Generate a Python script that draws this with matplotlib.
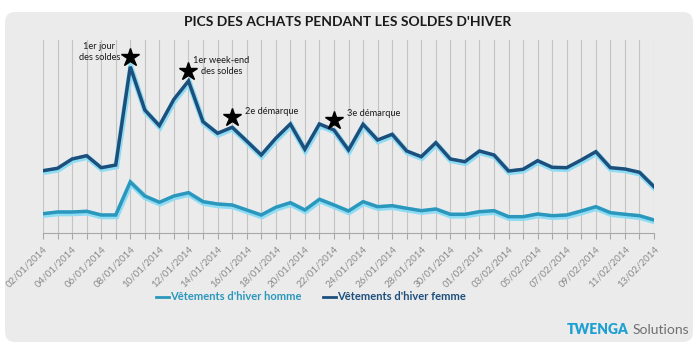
import matplotlib
matplotlib.use("Agg")
import matplotlib.pyplot as plt
import matplotlib.patheffects as pe
import matplotlib.transforms as mtransforms
from matplotlib.patches import FancyBboxPatch

plt.rcParams['font.family'] = ['Lato', 'DejaVu Sans']

dates = ([f"{d:02d}/01/2014" for d in range(2, 32)] +
         [f"{d:02d}/02/2014" for d in range(1, 14)])

femme = [62.3, 64.7, 74, 77.3, 65.3, 68, 166.3, 123, 107.3, 133.7, 152,
         111.3, 99.7, 105.7, 92, 78, 94.7, 109, 83.7, 109, 103, 83, 108.7,
         93, 98.7, 82, 76.3, 90.3, 74, 71.3, 82, 78, 62, 63.7, 72.3, 65.7,
         65.3, 73, 81.3, 65.3, 64, 60.7, 46.3]
homme = [19.3, 21, 21, 21.7, 18, 18, 51, 37, 30.7, 37, 40.3, 31.3, 29, 28,
         23, 18, 25.7, 30.3, 23, 33.7, 28, 22, 31.3, 26.3, 27.3, 24.7, 22.3,
         24, 18.7, 18.7, 21.3, 22.3, 16.3, 16.3, 19, 17.3, 18, 22, 26.3,
         20.3, 18.7, 17.3, 13]

title = "PICS DES ACHATS PENDANT LES SOLDES D'HIVER"
label_homme = "Vêtements d'hiver homme"
label_femme = "Vêtements d'hiver femme"
events_idx = [6, 10, 13, 20]
events_txt = ["1er jour\ndes soldes", "1er week-end\ndes soldes",
              "2e démarque", "3e démarque"]

c_dark = '#1d4f7c'
c_light = '#2b97bd'
c_glow = '#8edcf4'

fig = plt.figure(figsize=(7, 3.5), dpi=100)
fig.patch.set_facecolor('white')
panel = FancyBboxPatch((0.05, 0.08), 6.88, 3.30,
                       boxstyle="round,pad=0,rounding_size=0.1",
                       transform=fig.dpi_scale_trans, facecolor='#ebebeb',
                       edgecolor='none', zorder=-10)
fig.patches.append(panel)

ax = fig.add_axes([43/700, 1-233/350, (654-43)/700, (233-40)/350])
ax.set_zorder(2)
ax.patch.set_alpha(0)
x = list(range(len(dates)))
glow = [pe.Stroke(linewidth=4.2, foreground=c_glow, offset=(0.4, -1.0)), pe.Normal()]
lh, = ax.plot(x, homme, color=c_light, lw=2.5, label=label_homme,
              path_effects=glow, solid_joinstyle='miter', zorder=3)
lf, = ax.plot(x, femme, color=c_dark, lw=2.5, label=label_femme,
              path_effects=glow, solid_joinstyle='miter', zorder=3)

ax.set_xlim(0, len(dates)-1)
ax.set_ylim(0, 193)
ax.set_xticks(x)
ax.set_xticklabels([d if i % 2 == 0 else '' for i, d in enumerate(dates)],
                   rotation=45, ha='right', rotation_mode='anchor',
                   fontsize=7, color='#8a8a8a')
ax.tick_params(axis='x', length=4, color='#a8a8a8', width=0.8, pad=4)
ax.set_yticks([])
ax.grid(axis='x', color='#c4c4c4', lw=0.8)
for s in ['top', 'right', 'left']:
    ax.spines[s].set_visible(False)
ax.spines['bottom'].set_color('#a8a8a8')
ax.spines['bottom'].set_linewidth(0.8)

star_tr = mtransforms.offset_copy(ax.transData, fig=fig, x=0, y=10, units='dots')
ex = list(events_idx)
ey = [femme[i] for i in events_idx]
ax.plot(ex, ey, linestyle='none', marker='*', markersize=13.5, color='black',
        transform=star_tr, zorder=5, clip_on=False)

offsets = [(-31, 5, 'center'), (33, 5, 'center'), (13, 6, 'left'), (13, 6, 'left')]
for (i, t, (dx, dy, ha)) in zip(events_idx, events_txt, offsets):
    ax.annotate(t, xy=(i, femme[i]), xycoords=star_tr,
                xytext=(dx, dy), textcoords='offset pixels',
                ha=ha, va='center', multialignment='center',
                fontsize=6.7, color='#1a1a1a', zorder=6, linespacing=1.3)

fig.text(348/700, 1-22/350, title, ha='center', va='center',
         fontsize=10, fontweight='bold', color='#1a1a1a')

leg = fig.legend(handles=[lh, lf], loc='center', bbox_to_anchor=(311/700, 1-297/350),
                 ncol=2, frameon=False, handlelength=1.2, handletextpad=0.1,
                 columnspacing=1.9, prop={'weight': 'bold', 'size': 8})
for txt, c in zip(leg.get_texts(), [c_light, c_dark]):
    txt.set_color(c)
for h in leg.legend_handles:
    h.set_path_effects([])
    h.set_linewidth(2.0)

fig.text(629/700, 1-330/350, "TWENGA", ha='right', va='center',
         fontsize=10, fontweight='heavy', color='#1fa0d2')
fig.text(633/700, 1-330/350, "Solutions", ha='left', va='center',
         fontsize=10, color='#6f6f6f')

fig.savefig('out.png', dpi=100)
